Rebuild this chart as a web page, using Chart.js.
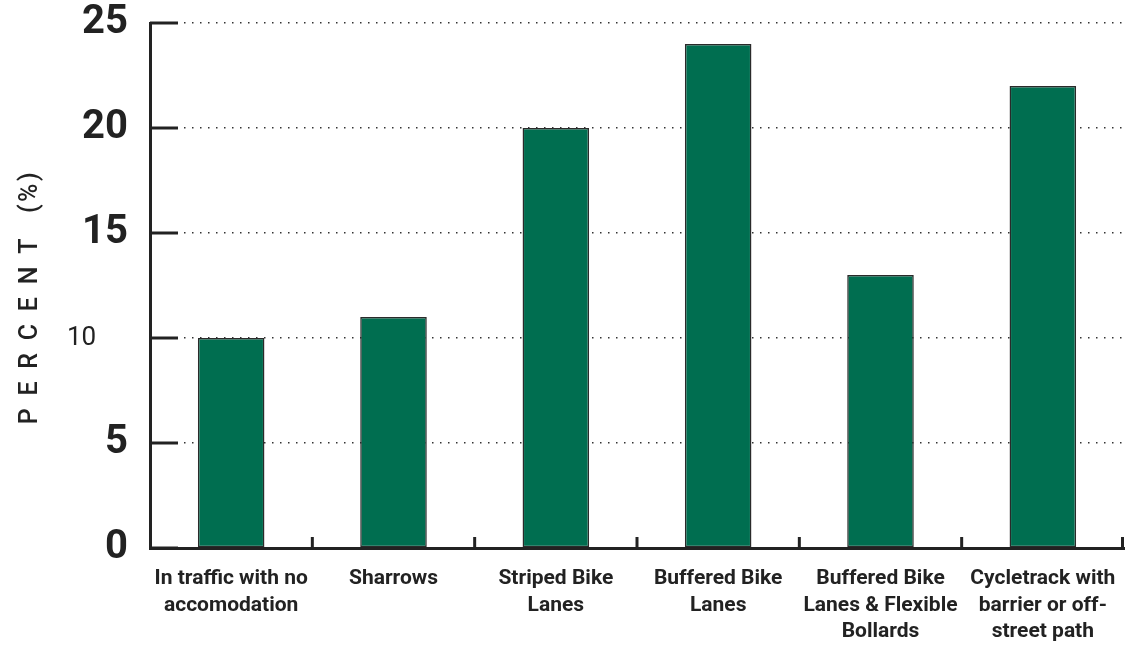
<!DOCTYPE html>
<html>
<head>
<meta charset="utf-8">
<title>Percent by bike facility type</title>
<script src="https://cdn.jsdelivr.net/npm/chart.js"></script>
<style>
  html, body { margin: 0; padding: 0; background: #fff; }
  #wrap { width: 1128px; height: 647px; position: relative; }
</style>
</head>
<body>
<div id="wrap"><canvas id="chart"></canvas></div>
<script>
// categories and values
const categories = [
  ['In traffic with no', 'accomodation'],
  'Sharrows',
  ['Striped Bike', 'Lanes'],
  ['Buffered Bike', 'Lanes'],
  ['Buffered Bike', 'Lanes & Flexible', 'Bollards'],
  ['Cycletrack with', 'barrier or off-', 'street path']
];
const percents = [10, 11, 20, 24, 13, 22];
const yTicks = [0, 5, 10, 15, 20, 25];

const face = "Roboto, 'Liberation Sans', sans-serif";
const ink = '#222';

// short solid tick marks drawn inside the plot, like the original
const axisMarks = {
  id: 'axisMarks',
  afterDraw(chart) {
    const { ctx, chartArea, scales } = chart;
    ctx.save();
    ctx.strokeStyle = ink;
    ctx.lineWidth = 3;
    yTicks.forEach(v => {
      const y = scales.y.getPixelForValue(v);
      ctx.beginPath();
      ctx.moveTo(chartArea.left, y);
      ctx.lineTo(chartArea.left + 28, y);
      ctx.stroke();
    });
    const step = scales.x.width / categories.length;
    for (let i = 1; i <= categories.length; i++) {
      const x = Math.min(scales.x.left + i * step, chartArea.right - 1.5);
      ctx.beginPath();
      ctx.moveTo(x, chartArea.bottom);
      ctx.lineTo(x, chartArea.bottom - 11);
      ctx.stroke();
    }
    ctx.restore();
  }
};

new Chart(document.getElementById('chart'), {
  type: 'bar',
  data: {
    labels: categories,
    datasets: [{
      data: percents,
      backgroundColor: '#006e50',
      borderColor: '#2a2a2a',
      borderWidth: 1.5,
      borderSkipped: false,
      barPercentage: 0.41,
      categoryPercentage: 1
    }]
  },
  options: {
    responsive: true,
    maintainAspectRatio: false,
    animation: false,
    layout: { padding: { top: 23, right: 4, bottom: 0, left: 0 } },
    plugins: { legend: { display: false }, tooltip: { enabled: false } },
    scales: {
      x: {
        grid: { display: false, drawTicks: false },
        border: { color: ink, width: 3 },
        ticks: {
          color: ink,
          padding: 18,
          maxRotation: 0,
          autoSkip: false,
          font: { family: face, size: 21, weight: 'bold', lineHeight: 1.25 }
        },
        afterFit(scale) {
          scale.height = 99;
          scale.paddingLeft = 0;
          scale.paddingRight = 0;
        }
      },
      y: {
        min: 0,
        max: 25,
        afterBuildTicks(scale) { scale.ticks = yTicks.map(v => ({ value: v })); },
        grid: {
          color: ctx => ctx.tick && ctx.tick.value === 0 ? 'rgba(0,0,0,0)' : '#333',
          lineWidth: 1.5,
          drawTicks: false
        },
        border: { color: ink, width: 3, dash: [1.5, 6.5] },
        ticks: {
          color: ink,
          padding: 22,
          callback: v => v === 10 ? '10\u2003\u2009' : String(v),
          font: ctx => ctx.tick && ctx.tick.value === 10
            ? { family: face, size: 26, weight: 'normal' }
            : { family: face, size: 40, weight: 'bold' }
        },
        title: {
          display: true,
          text: 'P\u2002E\u2002R\u2002C\u2002E\u2002N\u2002T\u2002\u2002(\u200A%\u200A)\u2003',
          color: ink,
          padding: { top: 16, bottom: 0 },
          font: { family: face, size: 25, weight: '500' }
        },
        afterFit(scale) {
          scale.width = 150;
          scale.paddingTop = 0;
          scale.paddingBottom = 0;
        }
      }
    }
  },
  plugins: [axisMarks]
});
</script>
</body>
</html>
